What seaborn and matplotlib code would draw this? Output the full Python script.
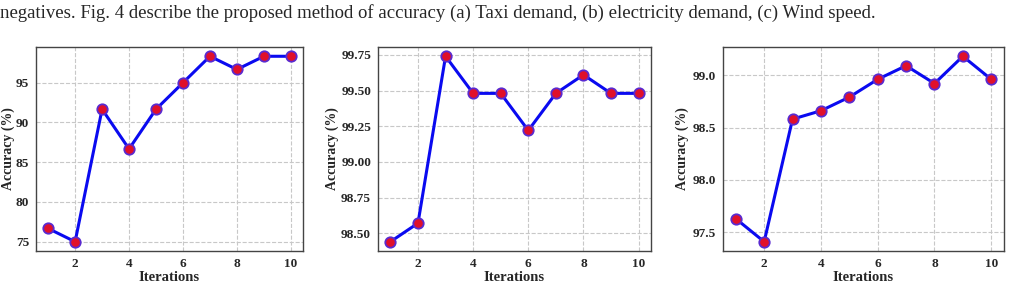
import numpy as np
import pandas as pd
import matplotlib
matplotlib.use("Agg")
import matplotlib.pyplot as plt
import seaborn as sns

# accuracy per iteration for the three datasets
iterations = [1, 2, 3, 4, 5, 6, 7, 8, 9, 10]
taxi_acc = [76.67, 75.0, 91.67, 86.67, 91.67, 95.0, 98.33, 96.67, 98.33, 98.33]
electricity_acc = [98.44, 98.57, 99.74, 99.48, 99.48, 99.22, 99.48, 99.61, 99.48, 99.48]
wind_acc = [97.63, 97.41, 98.58, 98.66, 98.79, 98.96, 99.09, 98.92, 99.18, 98.96]
y_ticks = [
    [75, 80, 85, 90, 95],
    [98.5, 98.75, 99.0, 99.25, 99.5, 99.75],
    [97.5, 98.0, 98.5, 99.0],
]
y_fmt = ["{:.0f}", "{:.2f}", "{:.1f}"]
caption = ("negatives. Fig. 4 describe the proposed method of accuracy (a) Taxi demand, "
           "(b) electricity demand, (c) Wind speed.")

sns.set_style("whitegrid", {"grid.linestyle": "--", "grid.color": "#c8c8c8",
                            "axes.edgecolor": "#444444"})
plt.rcParams["font.family"] = ["Liberation Serif", "DejaVu Serif"]

fig = plt.figure(figsize=(10.09, 2.9), dpi=100)
W, H = 1009, 290
# axes boxes in pixels: left, right, and the right edge of the y label
boxes = [(36, 303, 15), (378, 651, 339), (723, 1004, 689)]
top, bottom = 47, 251

series = [taxi_acc, electricity_acc, wind_acc]
for i, (vals, (l, r, lab_x)) in enumerate(zip(series, boxes)):
    ax = fig.add_axes([l / W, 1 - bottom / H, (r - l) / W, (bottom - top) / H])
    df = pd.DataFrame({"Iterations": iterations, "Accuracy": vals})
    sns.lineplot(data=df, x="Iterations", y="Accuracy", ax=ax, color="#0a0af0",
                 linewidth=2.2, marker="o", markersize=7.5,
                 markerfacecolor="#e0102a", markeredgecolor="#5a2ad0",
                 markeredgewidth=1.3)
    ax.set_xticks([2, 4, 6, 8, 10])
    ax.set_yticks(y_ticks[i])
    ax.set_yticklabels([y_fmt[i].format(t) for t in y_ticks[i]])
    ax.set_xlim(0.55, 10.45)
    for lab in ax.get_xticklabels() + ax.get_yticklabels():
        lab.set_fontweight("bold")
        lab.set_fontsize(9.5)
    ax.set_xlabel("Iterations", fontsize=10.5, fontweight="bold", labelpad=1)
    ax.set_ylabel("Accuracy (%)", fontsize=10, fontweight="bold")
    ax.yaxis.set_label_coords((lab_x - l) / (r - l), 0.5)
    ax.tick_params(axis="both", length=3, pad=2, color="#444444")
    for s in ax.spines.values():
        s.set_linewidth(1.0)

fig.text(0.0, 1 - 13 / H, caption, fontsize=13.5, va="center", ha="left",
         family=["Liberation Serif"])

fig.savefig("out.png", dpi=100)
